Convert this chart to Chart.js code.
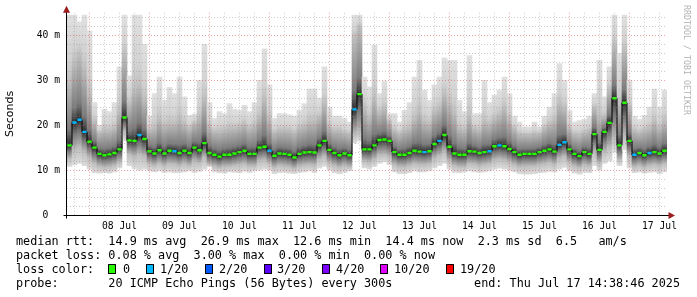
<!DOCTYPE html>
<html>
<head>
<meta charset="utf-8">
<title>SmokePing latency</title>
<script src="https://cdn.jsdelivr.net/npm/chart.js@4.4.1/dist/chart.umd.min.js"></script>
<style>
  html, body { margin:0; padding:0; background:#ffffff; }
  #wrap { position:relative; width:697px; height:297px; overflow:hidden; background:#ffffff; }
  #c { position:absolute; left:0; top:0; }
  .txt { position:absolute; font-family:'DejaVu Sans Mono', monospace; font-size:11.8px; line-height:14px; white-space:pre; color:#000; }
  .lbox { position:absolute; width:6px; height:8px; border:1px solid #000; }
  #credit { position:absolute; left:692px; top:5px; transform-origin:0 0; transform:rotate(90deg);
            font-family:'DejaVu Sans Mono', monospace; font-size:8.3px; line-height:10px; color:#b4b4b4; white-space:pre; }
</style>
</head>
<body>
<div id="wrap">
  <canvas id="c" width="697" height="297"></canvas>
  <div id="credit">RRDTOOL / TOBI OETIKER</div>
  <div class="txt" style="left:16px;top:234px">median rtt:  14.9 ms avg  26.9 ms max  12.6 ms min  14.4 ms now  2.3 ms sd  6.5   am/s</div>
  <div class="txt" style="left:16px;top:248px">packet loss: 0.08 % avg  3.00 % max  0.00 % min  0.00 % now</div>
  <div class="txt" style="left:16px;top:262px">loss color:</div>
  <div id="lossLegend"></div>
  <div class="txt" style="left:16px;top:276px">probe:       20 ICMP Echo Pings (56 Bytes) every 300s</div>
  <div class="txt" style="right:17px;top:276px">end: Thu Jul 17 14:38:46 2025</div>
</div>
<script>
// ---------------- data ----------------
// one sample every 2 hours, first sample at 16:00 on 07 Jul (x = hours after 07 Jul 00:00)
const firstHour = 16;
const hourStep = 2;

// median round trip time (ms)
const medianRtt = [
  15.5,20.6,21.2,18.5,16.3,15.0,13.6,13.3,13.5,13.8,
  14.6,21.7,16.6,16.5,17.8,16.9,14.2,13.7,14.4,13.7,
  14.3,14.2,13.8,14.3,13.8,15.0,14.4,16.0,13.8,13.4,
  13.0,13.4,13.4,13.7,14.0,14.3,13.6,13.6,15.0,15.2,
  14.3,13.2,13.7,13.6,13.4,12.8,13.6,13.9,14.0,13.9,
  15.5,16.5,14.5,13.8,13.3,13.7,13.3,23.5,26.9,14.6,
  14.6,15.5,16.7,16.8,16.5,14.0,13.4,13.4,13.8,14.3,
  14.1,14.0,14.2,15.8,16.5,17.8,15.2,13.7,13.4,13.4,
  14.2,14.1,13.8,14.0,14.2,15.3,15.5,15.3,14.7,14.0,
  13.4,13.6,13.6,13.6,14.0,14.3,14.6,14.1,15.6,16.2,
  14.6,13.6,13.1,14.0,13.6,18.0,14.5,18.5,20.5,26.0,
  15.5,25.0,16.5,13.4,13.8,13.3,13.8,14.0,13.7,14.3
];

// smoke: fastest ping (ms)
const smokeMin = [
  10.8,11.2,11.5,11.0,10.2,9.4,9.3,9.4,9.3,9.6,
  10.5,16.5,11.0,10.3,10.0,10.2,9.8,9.6,9.8,9.5,
  9.6,9.4,9.5,9.6,9.8,9.5,9.7,10.2,10.8,9.6,
  9.4,9.3,9.6,9.5,9.4,9.7,9.5,9.8,10.0,10.2,
  10.0,9.2,9.4,9.5,9.3,9.2,9.5,9.6,9.8,9.5,
  10.4,10.8,10.0,9.4,9.2,9.5,9.8,16.0,16.5,10.5,
  10.2,10.8,11.5,11.8,11.2,9.6,9.2,9.2,9.4,9.8,
  9.6,9.6,9.8,10.5,11.0,11.5,10.2,9.5,9.4,9.6,
  9.8,9.6,9.5,9.6,9.8,10.2,10.4,10.2,9.9,9.6,
  9.2,9.1,9.1,9.2,9.4,9.5,9.7,9.6,10.2,10.6,
  9.8,9.3,9.1,9.5,9.4,11.0,10.0,11.5,12.0,14.0,
  11.0,14.5,10.5,9.4,9.6,9.3,9.5,9.6,9.2,9.6
];

// smoke: lower edge of the denser band (ms)
const smokeLow = [
  12.5,14.5,15.0,14.0,12.8,11.5,10.8,10.6,10.7,11.0,
  11.8,18.5,13.5,13.0,13.5,13.0,11.4,11.0,11.5,11.0,
  11.4,11.3,11.0,11.4,11.0,12.0,11.6,12.8,11.2,10.8,
  10.5,10.8,10.8,11.0,11.2,11.4,10.9,10.9,12.0,12.2,
  11.5,10.6,11.0,10.9,10.7,10.3,10.9,11.1,11.2,11.1,
  12.4,13.0,11.6,11.0,10.6,11.0,10.7,18.0,18.5,12.0,
  11.7,12.4,13.3,13.4,13.0,11.2,10.7,10.7,11.0,11.4,
  11.3,11.2,11.4,12.6,13.2,14.0,12.1,11.0,10.7,10.7,
  11.4,11.3,11.0,11.2,11.4,12.2,12.4,12.2,11.8,11.2,
  10.7,10.9,10.9,10.9,11.2,11.4,11.7,11.3,12.5,13.0,
  11.7,10.9,10.5,11.2,10.9,14.0,11.6,14.0,15.0,17.0,
  12.3,17.5,13.0,10.7,11.0,10.6,11.0,11.2,11.0,11.4
];

// smoke: upper edge of the denser band (ms)
const smokeHigh = [
  30,34,36,33,27,21,18.5,19,19,19.5,
  23,36,25,28,29,26,19,19.5,21.5,20,
  20.5,20.5,21.5,20.5,19.5,20.5,22,26,20,18.8,
  18.8,19,19.5,19.5,19.8,20.5,19.5,20,22,26,
  21.5,18.5,19,19,19,18.5,19.5,20,21,21,
  22,25,20,19,19,18.5,18.2,40,42,24,
  22,26,23,24,21,19,18.3,19,19.5,21.5,
  23,21,20.5,23,24,27,25,23,19.5,19,
  22,19.5,19,21,20.5,21.5,22.5,24,21.5,19.5,
  18.2,18,18,18.3,18.2,19.5,20.5,21,25,24,
  19.5,18.2,18,18.5,19,24,22,22,28,38,
  25,37,24,19,18.5,19,19.5,21,19.5,21
];

// smoke: slowest ping (ms)
const smokeMax = [
  44.5,44.5,43,44.5,41,25,20,23.5,23,25,
  33,44.5,31,44.5,44.5,38,22,27,30.7,25.5,
  28.4,27,30.7,26.3,22.2,22.5,30,38,25,21.5,
  23,22.6,24.8,23.5,23.3,24.4,23,25,30,37,
  29,21.5,22.6,22.6,22.3,22,23.3,24.8,28,28,
  26,33,24,22,22,21.5,20.7,44.5,44.5,30.7,
  28.5,37.8,27,29.8,22.6,22.6,20.7,23.3,25,30.7,
  34.4,27.8,25.5,29,30.7,35,34.4,34.4,25.5,23,
  35.5,22.6,22.6,30,25,26.7,27.8,30.7,27,22,
  20.7,19.6,19.6,20.7,19.6,22,24,27,33.7,30,
  23.3,20.7,21,21.3,22,27,34.4,26.3,33,44.5,
  36,44.5,30,22,21.3,22.2,24,28,24,27.8
];

// lost pings out of 20 for each sample
const lossCount = [
  0,1,1,1,0,0,0,0,0,0,
  0,0,0,0,1,0,0,0,0,0,
  0,1,0,0,0,0,0,0,0,0,
  0,0,0,0,0,0,0,0,0,0,
  1,0,0,0,0,0,0,0,0,0,
  0,0,0,0,0,0,0,1,0,0,
  0,0,0,0,0,0,0,0,0,0,
  0,1,0,0,1,0,0,0,0,0,
  0,0,0,0,1,0,1,0,0,0,
  0,0,0,0,0,0,0,0,1,1,
  0,0,0,0,0,0,0,0,0,0,
  0,0,0,1,0,0,1,0,0,0
];

// loss colour legend
const lossLevels = [0, 1, 2, 3, 4, 10, 19];
const lossLabels = ['0', '1/20', '2/20', '3/20', '4/20', '10/20', '19/20'];
const lossColors = ['#26ff00', '#00b8ff', '#0059ff', '#5e00ff', '#7e00ff', '#dd00ff', '#ff0000'];

// axis labels
const dayLabels = ['08 Jul','09 Jul','10 Jul','11 Jul','12 Jul','13 Jul','14 Jul','15 Jul','16 Jul','17 Jul'];
const dayLabelHours = [36, 60, 84, 108, 132, 156, 180, 204, 228, 252];
const yTickLabels = { 0: '0  ', 10: '10 m', 20: '20 m', 30: '30 m', 40: '40 m' };
const xRange = [15, 255];   // 07 Jul 15:00 .. 17 Jul 15:00
const yRange = [0, 45];

// ---------------- legend boxes (layout) ----------------
const legendBoxX = [108, 146, 205, 264, 322, 380, 446];
const legendTextX = [123, 160, 219, 277, 336, 394, 460];
const legendHost = document.getElementById('lossLegend');
lossLabels.forEach((lab, i) => {
  const b = document.createElement('div');
  b.className = 'lbox';
  b.style.left = legendBoxX[i] + 'px';
  b.style.top = '264px';
  b.style.background = lossColors[i];
  legendHost.appendChild(b);
  const t = document.createElement('div');
  t.className = 'txt';
  t.style.left = legendTextX[i] + 'px';
  t.style.top = '262px';
  t.textContent = lab;
  legendHost.appendChild(t);
});

// ---------------- chart ----------------
const hours = medianRtt.map((_, i) => firstHour + i * hourStep);

function lossColor(n) {
  let c = lossColors[0];
  lossLevels.forEach((lv, i) => { if (n >= lv) c = lossColors[i]; });
  return c;
}

function smokeFill(ctx) {
  const chart = ctx.chart;
  const ys = chart.scales && chart.scales.y;
  if (!ys || ctx.type !== 'data') return '#d8d8d8';
  const i = ctx.dataIndex;
  const yTop = ys.getPixelForValue(smokeMax[i]);
  const yBot = ys.getPixelForValue(smokeMin[i]);
  if (!isFinite(yTop) || !isFinite(yBot) || yBot - yTop < 1) return '#d8d8d8';
  const f = v => Math.min(1, Math.max(0, (ys.getPixelForValue(v) - yTop) / (yBot - yTop)));
  const m = medianRtt[i], hi = smokeHigh[i], lo = smokeLow[i];
  const g = chart.ctx.createLinearGradient(0, yTop, 0, yBot);
  g.addColorStop(0, '#e0e0e0');
  g.addColorStop(f(hi + (smokeMax[i] - hi) * 0.3), '#d2d2d2');
  g.addColorStop(f(hi), '#c0c0c0');
  g.addColorStop(f(m + (hi - m) * 0.25), '#7c7c7c');
  g.addColorStop(f(m), '#2e2e2e');
  g.addColorStop(f(m - (m - lo) * 0.4), '#747474');
  g.addColorStop(f(lo), '#bdbdbd');
  g.addColorStop(1, '#dcdcdc');
  return g;
}

const MAJOR = 'rgba(215,70,70,0.5)';
const MINOR = 'rgba(140,140,140,0.45)';

const axesPlugin = {
  id: 'rrdAxes',
  afterDraw(chart) {
    const { ctx, chartArea: a } = chart;
    const xa = Math.round(a.left) - 0.5;
    const yb = Math.round(a.bottom) + 0.5;
    ctx.save();
    ctx.strokeStyle = '#000';
    ctx.lineWidth = 1;
    ctx.beginPath();
    ctx.moveTo(xa, yb + 3); ctx.lineTo(xa, a.top - 1);
    ctx.moveTo(xa - 3, yb); ctx.lineTo(a.right + 2, yb);
    ctx.stroke();
    ctx.fillStyle = '#9c1d1d';
    ctx.beginPath();
    ctx.moveTo(xa, a.top - 7); ctx.lineTo(xa + 3.5, a.top); ctx.lineTo(xa - 3.5, a.top); ctx.closePath();
    ctx.fill();
    ctx.beginPath();
    ctx.moveTo(a.right + 8, yb); ctx.lineTo(a.right + 1.5, yb - 3.5); ctx.lineTo(a.right + 1.5, yb + 3.5); ctx.closePath();
    ctx.fill();
    ctx.restore();
  }
};

new Chart(document.getElementById('c'), {
  type: 'bar',
  data: {
    datasets: [
      {
        type: 'line',
        label: 'median rtt',
        data: hours.map((h, i) => ({ x: h, y: medianRtt[i] })),
        stepped: 'middle',
        borderColor: '#000000',
        borderWidth: 1,
        fill: false,
        pointStyle: 'line',
        pointRadius: 2.2,
        pointBorderWidth: 2.4,
        pointBorderColor: lossCount.map(lossColor),
        pointBackgroundColor: lossCount.map(lossColor),
        order: 0
      },
      {
        type: 'bar',
        label: 'smoke',
        data: hours.map((h, i) => ({ x: h, y: [smokeMin[i], smokeMax[i]] })),
        backgroundColor: smokeFill,
        borderWidth: 0,
        barPercentage: 1,
        categoryPercentage: 1,
        grouped: false,
        order: 1
      }
    ]
  },
  options: {
    responsive: false,
    animation: false,
    devicePixelRatio: 1,
    events: [],
    layout: { padding: { left: 0, right: 30, top: 12.5, bottom: 62 } },
    plugins: { legend: { display: false }, tooltip: { enabled: false } },
    scales: {
      x: {
        type: 'linear',
        min: xRange[0],
        max: xRange[1],
        offset: false,
        afterBuildTicks: (s) => {
          const t = [];
          for (let h = 18; h < xRange[1]; h += 6) t.push({ value: h });
          s.ticks = t;
        },
        afterFit: (s) => { s.height = 20; },
        grid: {
          offset: false,
          drawTicks: false,
          z: 1,
          lineWidth: 1,
          color: (c) => (c.tick && c.tick.value % 24 === 0) ? MAJOR : MINOR
        },
        border: { display: false, dash: [1, 2] },
        ticks: {
          autoSkip: false,
          maxRotation: 0,
          padding: 6,
          color: '#000',
          font: { family: 'DejaVu Sans Mono', size: 9.7 },
          callback: (v) => { const k = dayLabelHours.indexOf(v); return k >= 0 ? dayLabels[k] : ''; }
        }
      },
      y: {
        min: yRange[0],
        max: yRange[1],
        afterBuildTicks: (s) => {
          const t = [];
          for (let v = 0; v <= 44; v += 2) t.push({ value: v });
          s.ticks = t;
        },
        afterFit: (s) => { s.width = 67; },
        grid: {
          drawTicks: false,
          z: 1,
          lineWidth: 1,
          color: (c) => {
            if (!c.tick || c.tick.value === 0) return 'rgba(0,0,0,0)';
            return c.tick.value % 10 === 0 ? MAJOR : MINOR;
          }
        },
        border: { display: false, dash: [1, 2] },
        ticks: {
          autoSkip: false,
          padding: 7,
          color: '#000',
          font: { family: 'DejaVu Sans Mono', size: 9.7 },
          callback: (v) => (yTickLabels[v] !== undefined ? yTickLabels[v] : '')
        },
        title: {
          display: true,
          text: 'Seconds',
          color: '#000',
          font: { family: 'DejaVu Sans', size: 11 },
          padding: { top: 4, bottom: 0 }
        }
      }
    }
  },
  plugins: [axesPlugin]
});
</script>
</body>
</html>
